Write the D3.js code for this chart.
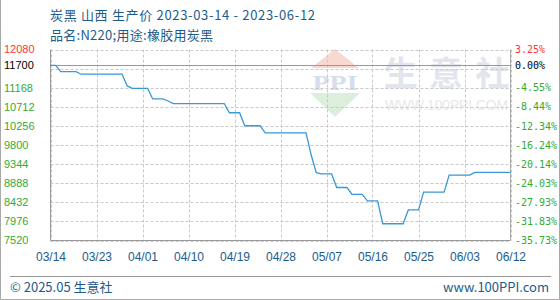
<!DOCTYPE html>
<html><head><meta charset="utf-8">
<script src="https://cdn.jsdelivr.net/npm/d3@7/dist/d3.min.js"></script>
<style>
html,body{margin:0;padding:0;background:#fff;}
svg{display:block;}
</style>
</head><body>
<svg id="chart" width="560" height="300"></svg>
<script>
// ---- data ----
const titleLine1 = "炭黑 山西 生产价 2023-03-14 - 2023-06-12";
const titleLine2 = "品名:N220;用途:橡胶用炭黑";
const startDate = "2023-03-14";
const endDate = "2023-06-12";
// daily price, 2023-03-14 .. 2023-06-12 (91 days)
const prices = [
  11700, 11700, 11550, 11550, 11550, 11550,
  11490, 11490, 11490, 11490, 11490, 11490, 11490, 11490, 11490,
  11210,
  11150, 11150, 11150, 11150,
  10900, 10900, 10900,
  10850,
  10790, 10790, 10790, 10790, 10790, 10790, 10790, 10790, 10790, 10790, 10790,
  10570, 10570, 10570,
  10260, 10260, 10260, 10260,
  10090, 10090, 10090, 10090, 10090, 10090, 10090, 10090, 10090,
  9560,
  9140,
  9110, 9110, 9110,
  8785, 8785, 8785,
  8620, 8620, 8620,
  8465, 8465, 8465,
  7920, 7920, 7920, 7920, 7920,
  8250, 8250, 8250,
  8675, 8675, 8675, 8675, 8675,
  9080, 9080, 9080, 9080, 9080,
  9145, 9145, 9145, 9145, 9145, 9145, 9145, 9145
];
const baseValue = 11700;
const gridValues = [12080, 11624, 11168, 10712, 10256, 9800, 9344, 8888, 8432, 7976, 7520];
const leftTickValues = [12080, 11700, 11168, 10712, 10256, 9800, 9344, 8888, 8432, 7976, 7520];
const leftTickLabels = ["12080", "11700", "11168", "10712", "10256", "9800", "9344", "8888", "8432", "7976", "7520"];
const rightTickLabels = ["3.25%", "0.00%", "-4.55%", "-8.44%", "-12.34%", "-16.24%", "-20.14%", "-24.03%", "-27.93%", "-31.83%", "-35.73%"];
const xTickLabels = ["03/14", "03/23", "04/01", "04/10", "04/19", "04/28", "05/07", "05/16", "05/25", "06/03", "06/12"];
const footerLeft = "© 2025.05 生意社";
const footerRight = "www.100PPI.com";

// ---- setup ----
const svg = d3.select("#chart");
const parse = d3.utcParse("%Y-%m-%d");
const d0 = parse(startDate), d1 = parse(endDate);
const dates = d3.utcDay.range(d0, d3.utcDay.offset(d1, 1));
const data = dates.map((d, i) => ({date: d, value: prices[i]}));

const X0 = 50.5, X1 = 510.5, Y0 = 49.5, Y1 = 240.5;
const x = d3.scaleUtc().domain([d0, d1]).range([X0, X1]);
const y = d3.scaleLinear().domain([7520, 12080]).range([Y1, Y0]);

const blue = "#1d5b8b";
const green = "#33aa33";
const red = "#ff3333";
const cjk = "'Noto Sans CJK SC','Noto Sans',sans-serif";

// outer frame (no top)
svg.append("path").attr("d", "M0.5,0 V299.5 H559.5 V0")
  .attr("fill", "none").attr("stroke", "#aaa").attr("stroke-width", 1);

// ---- watermark ----
const wm = svg.append("g");
wm.append("path").attr("d", "M335,49 L359,68 L311,68 Z").attr("fill", "#f7d9d1");
wm.append("text").attr("x", 335).attr("y", 90).attr("text-anchor", "middle")
  .attr("font-family", "'Liberation Serif',serif").attr("font-weight", "bold")
  .attr("font-size", 21).attr("textLength", 45).attr("lengthAdjust", "spacingAndGlyphs")
  .attr("fill", "#d6ddec").text("PPI");
wm.append("path").attr("d", "M310,93 L360,93 L335,117 Z").attr("fill", "#dcefdc");
const wmChars = ["生", "意", "社"];
const wmX = [400.8, 446, 492.5];
wmChars.forEach((c, i) => {
  wm.append("text").attr("x", wmX[i]).attr("y", 86).attr("text-anchor", "middle")
    .attr("font-family", cjk).attr("font-weight", "bold").attr("font-size", 34)
    .attr("fill", "#e1e5ee").text(c);
});
wm.append("text").attr("x", 385).attr("y", 110)
  .attr("font-family", "'Liberation Sans',Arial,sans-serif").attr("font-size", 14)
  .attr("textLength", 123).attr("lengthAdjust", "spacingAndGlyphs")
  .attr("fill", "#e8e8e8").text("WWW.100PPI.COM");

// ---- grid ----
const grid = svg.append("g");
gridValues.forEach(v => {
  grid.append("line").attr("x1", X0).attr("x2", X1)
    .attr("y1", Math.round(y(v)) + 0.5).attr("y2", Math.round(y(v)) + 0.5)
    .attr("stroke", "#c8c8c8").attr("stroke-dasharray", "3,2");
});
const xTickDates = xTickLabels.map(l => parse("2023-" + l.replace("/", "-")));
xTickDates.forEach(d => {
  grid.append("line").attr("x1", Math.round(x(d)) + 0.5).attr("x2", Math.round(x(d)) + 0.5)
    .attr("y1", Y0).attr("y2", Y1)
    .attr("stroke", "#c8c8c8").attr("stroke-dasharray", "3,2");
});
// base line
svg.append("line").attr("x1", X0).attr("x2", X1)
  .attr("y1", Math.round(y(baseValue)) + 0.5).attr("y2", Math.round(y(baseValue)) + 0.5)
  .attr("stroke", "#999").attr("stroke-width", 1);
// plot borders
svg.append("line").attr("x1", X0).attr("x2", X0).attr("y1", Y0).attr("y2", Y1).attr("stroke", "#999");
svg.append("line").attr("x1", X0).attr("x2", X1).attr("y1", Y1).attr("y2", Y1).attr("stroke", "#999");
svg.append("line").attr("x1", X1).attr("x2", X1).attr("y1", Y0).attr("y2", Y1).attr("stroke", "#aaa");

// ---- line ----
svg.append("path").datum(data)
  .attr("d", d3.line().x(d => x(d.date)).y(d => y(d.value)))
  .attr("fill", "none").attr("stroke", "#3a98d6").attr("stroke-width", 1.3);

// ---- left / right axis labels ----
const lcolor = i => i === 0 ? red : (i === 1 ? "#000" : green);
leftTickValues.forEach((v, i) => {
  svg.append("text").attr("x", 4).attr("y", y(v)).attr("dy", "0.36em")
    .attr("font-family", "'Liberation Sans',Arial,sans-serif").attr("font-size", 11)
    .attr("fill", lcolor(i)).text(leftTickLabels[i]);
  svg.append("text").attr("x", 515).attr("y", y(v)).attr("dy", "0.36em")
    .attr("font-family", "'DejaVu Sans Mono',monospace").attr("font-size", 10)
    .attr("fill", lcolor(i)).text(rightTickLabels[i]);
});

// ---- x axis ----
const xAxis = d3.axisBottom(x).tickValues(xTickDates)
  .tickFormat((d, i) => xTickLabels[i]).tickSize(0).tickPadding(0);
const gx = svg.append("g").attr("transform", "translate(0,252.5)").call(xAxis);
gx.select(".domain").remove();
gx.selectAll("text").attr("font-family", "'Liberation Sans',Arial,sans-serif")
  .attr("font-size", 12).attr("fill", blue).attr("dy", "0.71em");

// ---- titles ----
svg.append("text").attr("x", 50).attr("y", 20).attr("font-family", cjk)
  .attr("font-size", 13).attr("fill", blue)
  .attr("textLength", 265).attr("lengthAdjust", "spacing").text(titleLine1);
svg.append("text").attr("x", 50).attr("y", 39.5).attr("font-family", cjk)
  .attr("font-size", 13).attr("fill", blue)
  .attr("textLength", 163).attr("lengthAdjust", "spacing").text(titleLine2);

// ---- footer ----
svg.append("line").attr("x1", 10).attr("x2", 551).attr("y1", 276.5).attr("y2", 276.5)
  .attr("stroke", "#999");
svg.append("text").attr("x", 10).attr("y", 292).attr("font-family", cjk)
  .attr("font-size", 13).attr("fill", blue).text(footerLeft);
svg.append("text").attr("x", 549).attr("y", 292).attr("text-anchor", "end")
  .attr("font-family", cjk).attr("font-size", 13).attr("fill", blue).text(footerRight);
</script>
</body></html>
